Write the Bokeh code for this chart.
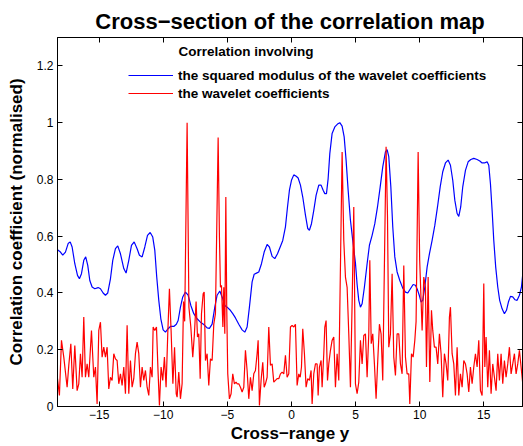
from bokeh.plotting import figure
from bokeh.models import (Range1d, LinearAxis, FixedTicker, CustomJSTickFormatter,
                          Legend, LegendItem, Label)
from bokeh.embed import file_html
from bokeh.resources import INLINE

# ---------------- data ----------------
blue_x = [-18.25, -18.02, -17.84, -17.63, -17.42, -17.26, -17.11, -16.90, -16.69, -16.54,
          -16.38, -16.20, -16.05, -15.89, -15.73, -15.55, -15.34, -15.08, -14.90, -14.69,
          -14.51, -14.33, -14.12, -13.94, -13.73, -13.55, -13.34, -13.08, -12.90, -12.69,
          -12.48, -12.27, -12.04, -11.86, -11.65, -11.44, -11.23, -11.02, -10.82, -10.66,
          -10.51, -10.35, -10.19, -10.01, -9.83, -9.62, -9.44, -9.18, -8.98, -8.84,
          -8.66, -8.48, -8.27, -8.06, -7.85, -7.62, -7.36, -7.10, -6.84, -6.58,
          -6.40, -6.19, -5.98, -5.80, -5.59, -5.41, -5.20, -5.02, -4.81, -4.58,
          -4.37, -4.11, -3.85, -3.64, -3.46, -3.28, -3.07, -2.91, -2.73, -2.55,
          -2.34, -2.13, -1.90, -1.72, -1.51, -1.30, -1.09, -0.88, -0.68, -0.47,
          -0.31, -0.16, 0.00, 0.18, 0.37, 0.52, 0.70, 0.88, 1.09, 1.27,
          1.40, 1.56, 1.74, 1.92, 2.13, 2.31, 2.47, 2.60, 2.73, 2.86,
          2.99, 3.17, 3.38, 3.59, 3.77, 3.95, 4.11, 4.26, 4.42, 4.60,
          4.78, 4.99, 5.12, 5.25, 5.38, 5.51, 5.69, 5.90, 6.08, 6.29,
          6.50, 6.71, 6.92, 7.12, 7.33, 7.46, 7.59, 7.75, 7.90, 8.06,
          8.24, 8.45, 8.68, 8.89, 9.07, 9.28, 9.49, 9.67, 9.83, 9.98,
          10.11, 10.24, 10.40, 10.58, 10.76, 10.97, 11.18, 11.39, 11.60, 11.80,
          12.01, 12.22, 12.40, 12.58, 12.74, 12.92, 13.05, 13.20, 13.36, 13.57,
          13.78, 13.99, 14.22, 14.48, 14.69, 14.87, 15.05, 15.26, 15.39, 15.52,
          15.65, 15.78, 15.93, 16.09, 16.24, 16.43, 16.61, 16.77, 16.92, 17.08,
          17.26, 17.44, 17.60, 17.78, 17.94, 18.07]
blue_y = [0.552, 0.544, 0.533, 0.544, 0.574, 0.580, 0.562, 0.503, 0.462, 0.450,
          0.468, 0.515, 0.527, 0.497, 0.444, 0.421, 0.415, 0.419, 0.415, 0.400,
          0.392, 0.400, 0.450, 0.515, 0.556, 0.566, 0.538, 0.486, 0.470, 0.515,
          0.568, 0.580, 0.556, 0.533, 0.527, 0.562, 0.603, 0.613, 0.597, 0.550,
          0.456, 0.374, 0.309, 0.270, 0.262, 0.274, 0.282, 0.282, 0.290, 0.303,
          0.350, 0.386, 0.403, 0.392, 0.356, 0.327, 0.309, 0.297, 0.289, 0.277,
          0.275, 0.290, 0.350, 0.392, 0.407, 0.386, 0.356, 0.350, 0.341, 0.327,
          0.312, 0.290, 0.270, 0.262, 0.280, 0.350, 0.439, 0.466, 0.470, 0.474,
          0.503, 0.544, 0.571, 0.562, 0.529, 0.521, 0.538, 0.562, 0.585, 0.633,
          0.703, 0.762, 0.797, 0.816, 0.811, 0.805, 0.780, 0.738, 0.674, 0.627,
          0.621, 0.644, 0.691, 0.744, 0.780, 0.780, 0.762, 0.750, 0.750, 0.803,
          0.891, 0.962, 0.985, 0.995, 1.000, 0.988, 0.950, 0.868, 0.762, 0.656,
          0.585, 0.505, 0.430, 0.374, 0.350, 0.362, 0.421, 0.503, 0.568, 0.603,
          0.644, 0.703, 0.774, 0.844, 0.897, 0.905, 0.880, 0.774, 0.633, 0.527,
          0.474, 0.444, 0.417, 0.403, 0.400, 0.415, 0.430, 0.427, 0.411, 0.390,
          0.368, 0.374, 0.421, 0.491, 0.538, 0.585, 0.638, 0.703, 0.774, 0.827,
          0.858, 0.868, 0.850, 0.797, 0.727, 0.680, 0.670, 0.703, 0.774, 0.832,
          0.862, 0.870, 0.874, 0.870, 0.865, 0.858, 0.858, 0.862, 0.850, 0.785,
          0.691, 0.585, 0.491, 0.421, 0.374, 0.344, 0.327, 0.339, 0.368, 0.388,
          0.386, 0.376, 0.374, 0.392, 0.421, 0.480]

red_x = [-18.25, -18.10, -17.94, -17.76, -17.50, -17.37, -17.21, -17.06, -16.90, -16.72,
         -16.59, -16.46, -16.33, -16.20, -16.07, -15.94, -15.81, -15.60, -15.42, -15.29,
         -15.16, -15.03, -14.90, -14.77, -14.64, -14.51, -14.38, -14.25, -14.12, -13.99,
         -13.86, -13.73, -13.60, -13.47, -13.34, -13.21, -13.08, -12.95, -12.82, -12.69,
         -12.56, -12.43, -12.30, -12.17, -12.04, -11.91, -11.78, -11.65, -11.52, -11.39,
         -11.26, -11.13, -11.00, -10.87, -10.79, -10.66, -10.53, -10.40, -10.30, -10.17,
         -10.04, -9.91, -9.78, -9.65, -9.52, -9.39, -9.25, -9.12, -8.99, -8.92,
         -8.79, -8.66, -8.53, -8.42, -8.33, -8.14, -8.00, -7.85, -7.70, -7.57,
         -7.44, -7.33, -7.23, -7.12, -7.02, -6.89, -6.81, -6.71, -6.58, -6.45,
         -6.32, -6.19, -6.06, -5.93, -5.72, -5.62, -5.54, -5.46, -5.35, -5.28,
         -5.20, -5.12, -5.05, -4.97, -4.84, -4.71, -4.58, -4.45, -4.32, -4.24,
         -4.11, -3.98, -3.85, -3.72, -3.59, -3.46, -3.33, -3.20, -3.07, -2.94,
         -2.81, -2.68, -2.60, -2.50, -2.37, -2.24, -2.13, -2.03, -1.90, -1.77,
         -1.64, -1.51, -1.38, -1.25, -1.12, -0.99, -0.86, -0.73, -0.60, -0.47,
         -0.34, -0.21, -0.08, 0.05, 0.18, 0.31, 0.44, 0.57, 0.68, 0.78,
         0.88, 1.01, 1.14, 1.27, 1.40, 1.53, 1.61, 1.74, 1.87, 2.00,
         2.08, 2.18, 2.31, 2.39, 2.52, 2.60, 2.70, 2.81, 2.91, 3.04,
         3.17, 3.30, 3.43, 3.56, 3.69, 3.95, 4.08, 4.21, 4.34, 4.47,
         4.60, 4.73, 4.86, 4.99, 5.12, 5.25, 5.38, 5.51, 5.64, 5.77,
         5.90, 6.03, 6.11, 6.22, 6.34, 6.47, 6.60, 6.73, 6.86, 6.99,
         7.12, 7.38, 7.49, 7.59, 7.72, 7.85, 7.98, 8.11, 8.24, 8.37,
         8.50, 8.63, 8.76, 8.89, 9.02, 9.15, 9.23, 9.36, 9.49, 9.62,
         9.72, 9.88, 10.00, 10.19, 10.32, 10.45, 10.53, 10.66, 10.79, 10.92,
         11.02, 11.15, 11.28, 11.41, 11.54, 11.67, 11.80, 11.93, 12.06, 12.19,
         12.32, 12.40, 12.53, 12.66, 12.79, 12.92, 13.05, 13.18, 13.31, 13.44,
         13.57, 13.70, 13.83, 13.96, 14.09, 14.22, 14.35, 14.48, 14.61, 14.74,
         14.87, 15.00, 15.08, 15.18, 15.31, 15.44, 15.57, 15.70, 15.83, 15.96,
         16.09, 16.22, 16.35, 16.48, 16.61, 16.74, 16.87, 17.00, 17.13, 17.26,
         17.39, 17.52, 17.65, 17.78, 17.91, 18.04]
red_y = [0.098, 0.039, 0.233, 0.174, 0.068, 0.145, 0.221, 0.062, 0.215, 0.056,
         0.080, 0.186, 0.103, 0.315, 0.103, 0.150, 0.103, 0.268, 0.103, 0.139,
         0.009, 0.268, 0.297, 0.174, 0.209, 0.174, 0.209, 0.062, 0.103, 0.092,
         0.186, 0.168, 0.162, 0.080, 0.115, 0.074, 0.139, 0.045, 0.286, 0.045,
         0.162, 0.068, 0.098, 0.186, 0.227, 0.186, 0.068, 0.139, 0.092, 0.127,
         0.068, 0.039, 0.139, 0.103, 0.280, 0.268, 0.280, 0.115, 0.004, 0.139,
         0.092, 0.174, 0.068, 0.256, 0.415, 0.268, 0.080, 0.209, 0.045, 0.033,
         0.121, 0.027, 0.080, 0.370, 0.300, 1.000, 0.350, 0.280, 0.174, 0.256,
         0.370, 0.245, 0.256, 0.098, 0.327, 0.397, 0.403, 0.162, 0.186, 0.074,
         0.168, 0.162, 0.290, 0.327, 0.948, 0.600, 0.420, 0.427, 0.280, 0.420,
         0.256, 0.738, 0.350, 0.115, 0.027, 0.045, 0.115, 0.080, 0.086, 0.080,
         0.080, 0.068, 0.051, 0.068, 0.198, 0.127, 0.027, 0.103, 0.056, 0.115,
         0.127, 0.186, 0.233, 0.004, 0.092, 0.156, 0.068, 0.080, 0.103, 0.280,
         0.145, 0.150, 0.086, 0.092, 0.098, 0.098, 0.115, 0.121, 0.115, 0.180,
         0.103, 0.115, 0.280, 0.286, 0.280, 0.290, 0.074, 0.115, 0.103, 0.139,
         0.274, 0.186, 0.068, 0.098, 0.092, 0.127, 0.009, 0.115, 0.150, 0.150,
         0.039, 0.139, 0.162, 0.068, 0.186, 0.280, 0.303, 0.092, 0.150, 0.198,
         0.233, 0.245, 0.068, 0.186, 0.092, 0.897, 0.585, 0.456, 0.420, 0.256,
         0.068, 0.362, 0.703, 0.080, 0.045, 0.086, 0.233, 0.150, 0.250, 0.256,
         0.103, 0.256, 0.515, 0.221, 0.256, 0.150, 0.027, 0.162, 0.290, 0.256,
         0.092, 0.915, 0.668, 0.209, 0.256, 0.468, 0.174, 0.109, 0.256, 0.256,
         0.150, 0.115, 0.497, 0.174, 0.115, 0.115, 0.009, 0.186, 0.174, 0.233,
         0.300, 0.897, 0.515, 0.268, 0.456, 0.421, 0.139, 0.456, 0.086, 0.339,
         0.268, 0.209, 0.209, 0.150, 0.256, 0.186, 0.033, 0.186, 0.150, 0.092,
         0.315, 0.350, 0.186, 0.150, 0.039, 0.209, 0.039, 0.115, 0.068, 0.162,
         0.150, 0.115, 0.051, 0.139, 0.080, 0.139, 0.186, 0.139, 0.233, 0.056,
         0.039, 0.433, 0.139, 0.245, 0.068, 0.198, 0.045, 0.150, 0.103, 0.056,
         0.186, 0.092, 0.186, 0.080, 0.162, 0.103, 0.150, 0.209, 0.115, 0.150,
         0.186, 0.115, 0.150, 0.198, 0.139, 0.080]

x_ticks = [-15, -10, -5, 0, 5, 10, 15]
y_ticks = [0, 0.2, 0.4, 0.6, 0.8, 1.0, 1.2]

title_text = "Cross\u2212section of the correlation map"
x_label = "Cross\u2212range y"
y_label = "Correlation coefficient (normalised)"
legend_title = "Correlation involving"
label_blue = "the squared modulus of the wavelet coefficients"
label_red = "the wavelet coefficients"

FONT = "Liberation Sans"

# ---------------- figure ----------------
p = figure(width=523, height=446, output_backend="svg", toolbar_location=None,
           x_range=Range1d(-18.25, 18.02), y_range=Range1d(0, 1.3),
           min_border_left=57, min_border_right=1, min_border_top=37,
           min_border_bottom=40, background_fill_color="white",
           border_fill_color="white")

p.title.text = title_text
p.title.align = "center"
p.title.text_font = FONT
p.title.text_font_size = "22px"
p.title.text_font_style = "bold"
p.title.text_color = "black"
p.title.standoff = 7

p.xgrid.grid_line_color = None
p.ygrid.grid_line_color = None
p.outline_line_color = "black"
p.outline_line_width = 1

x_fmt = CustomJSTickFormatter(code="return (tick < 0 ? '\u2212' : '') + Math.abs(tick);")
y_fmt = CustomJSTickFormatter(code="return String(Math.round(tick * 10) / 10);")
blank_fmt = CustomJSTickFormatter(code="return '';")


def style_axis(ax):
    ax.axis_line_color = "black"
    ax.major_tick_line_color = "black"
    ax.major_tick_in = 5
    ax.major_tick_out = 0
    ax.minor_tick_line_color = None
    ax.major_label_text_font = FONT
    ax.major_label_text_font_size = "12px"
    ax.major_label_text_color = "black"
    ax.axis_label_text_font = FONT
    ax.axis_label_text_font_size = "17px"
    ax.axis_label_text_font_style = "bold"
    ax.axis_label_text_color = "black"


xa = p.xaxis[0]
style_axis(xa)
xa.ticker = FixedTicker(ticks=x_ticks)
xa.formatter = x_fmt
xa.axis_label = x_label
xa.major_label_standoff = 3
xa.axis_label_standoff = 2

ya = p.yaxis[0]
style_axis(ya)
ya.ticker = FixedTicker(ticks=y_ticks)
ya.formatter = y_fmt
ya.axis_label = y_label
ya.major_label_standoff = 4
ya.axis_label_standoff = 8

top_ax = LinearAxis(ticker=FixedTicker(ticks=x_ticks), formatter=blank_fmt)
style_axis(top_ax)
top_ax.major_label_text_font_size = "0px"
top_ax.major_label_standoff = 0
p.add_layout(top_ax, "above")

right_ax = LinearAxis(ticker=FixedTicker(ticks=y_ticks), formatter=blank_fmt)
style_axis(right_ax)
right_ax.major_label_text_font_size = "0px"
right_ax.major_label_standoff = 0
p.add_layout(right_ax, "right")

# ---------------- lines ----------------
r_blue = p.line(blue_x, blue_y, line_color="#0000FF", line_width=1.2)
r_red = p.line(red_x, red_y, line_color="#FF0000", line_width=1.2)

legend = Legend(items=[LegendItem(label=label_blue, renderers=[r_blue]),
                       LegendItem(label=label_red, renderers=[r_red])],
                location=(71, 305), orientation="vertical",
                glyph_width=45, glyph_height=16, label_height=16, spacing=2,
                padding=0, margin=0, label_standoff=5,
                border_line_color=None, background_fill_alpha=0,
                label_text_font=FONT, label_text_font_style="bold",
                label_text_font_size="13.5px", label_text_color="black")
p.add_layout(legend)

p.add_layout(Label(x=-8.81, y=1.25, text=legend_title, text_baseline="middle",
                   text_font=FONT, text_font_style="bold", text_font_size="13.5px",
                   text_color="black"))

open("out.html", "w").write(file_html(p, INLINE))
